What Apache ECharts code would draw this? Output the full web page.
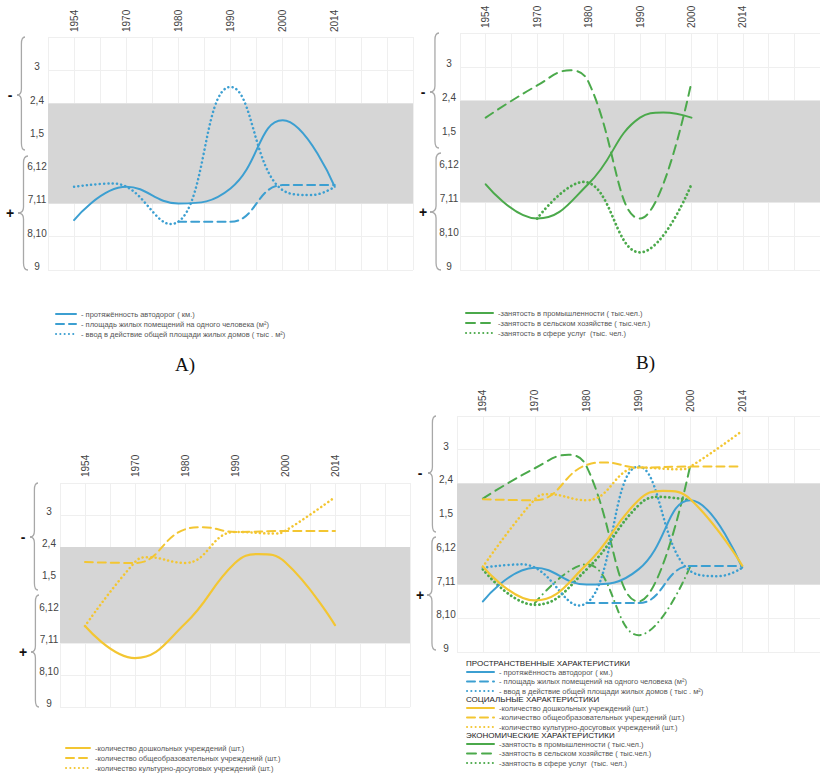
<!DOCTYPE html>
<html>
<head>
<meta charset="utf-8">
<script src="https://cdn.jsdelivr.net/npm/echarts@6/dist/echarts.min.js"></script>
<style>html,body{margin:0;padding:0;background:#fff;}#c{width:820px;height:774px;}</style>
</head>
<body>
<div id="c"></div>
<script>
// ---- data (x = position of the year in the categories list, y = rank position) ----
const years = ['1954', '1970', '1980', '1990', '2000', '2014'];
const yLabels = ['9', '8,10', '7,11', '6,12', '1,5', '2,4', '3', ''];

// A) spatial characteristics
const roads = [[0, 1.5], [1, 2.5], [2, 2.0], [3, 2.45], [4, 4.5], [5, 2.5]];
const housing = [[2, 1.45], [3, 1.45], [4, 2.55], [5, 2.55]];
const housingInput = [[0, 2.5], [0.75, 2.6], [1.85, 1.38], [3, 5.5], [4, 2.4], [4.55, 2.25], [5, 2.5]];

// B) economic characteristics
const industryB = [[0, 2.53], [1, 1.52], [2, 2.55], [3, 4.5], [3.45, 4.65], [4, 4.5]];
const agricultureB = [[0, 4.5], [1, 5.45], [1.65, 5.9], [2, 5.55], [3, 1.52], [4, 5.55]];
const servicesB = [[1, 1.52], [1.9, 2.6], [3, 0.52], [4, 2.53]];

// C) social characteristics
const preschool = [[0, 2.53], [1, 1.53], [2, 2.6], [3, 4.5], [3.47, 4.78], [4, 4.53], [5, 2.56]];
const schools = [[0, 4.53], [1, 4.5], [2, 5.55], [2.35, 5.62], [3, 5.47], [4, 5.5], [5, 5.5]];
const culture = [[0, 2.53], [1, 4.53], [1.25, 4.68], [2, 4.5], [3, 5.47], [3.8, 5.42], [4, 5.5], [5, 6.56]];

// D) combined — economic curves as drawn there
const industryD = [[0, 2.45], [1, 1.4], [2, 2.45], [3, 4.35], [3.4, 4.6], [4, 4.5]];
const agricultureD = [[0, 4.55], [1, 5.45], [1.65, 5.85], [2, 5.5], [3, 1.5], [4, 5.55]];
const servicesD = [[1, 1.45], [2, 2.6], [3, 0.5], [4, 2.55]];

const names = {
  roads: '- протяжённость автодорог ( км.)',
  housing: '- площадь жилых помещений на одного человека (м²)',
  housingInput: '- ввод в действие общей площади жилых домов ( тыс . м²)',
  industry: '-занятость в промышленности ( тыс.чел.)',
  agriculture: '-занятость в сельском хозяйстве ( тыс.чел.)',
  services: '-занятость в сфере услуг  (тыс. чел.)',
  preschool: '-количество дошкольных учреждений (шт.)',
  schools: '-количество общеобразовательных учреждений (шт.)',
  culture: '-количество культурно-досуговых учреждений (шт.)'
};
const headers = ['ПРОСТРАНСТВЕННЫЕ ХАРАКТЕРИСТИКИ', 'СОЦИАЛЬНЫЕ ХАРАКТЕРИСТИКИ', 'ЭКОНОМИЧЕСКИЕ ХАРАКТЕРИСТИКИ'];
const captions = ['A)', 'B)'];

// ---- styles ----
const BLUE = '#3c9fd1', GREEN = '#4ba94b', YELLOW = '#f3c632';
const SOLID = 'solid', DASH = [8, 5], DOT = [0.1, 4.2], DASHDOT = [7, 5, 0.1, 5];

const grids = [
  { left: 48, top: 37, width: 365, height: 233 },
  { left: 460, top: 33, width: 360, height: 237 },
  { left: 60, top: 483, width: 350, height: 224 },
  { left: 457, top: 416, width: 363, height: 236 }
];
const labelMargins = [5, 5, 6, 4];

const xAxes = grids.map((g, i) => ({
  type: 'value', gridIndex: i, position: 'top', min: -0.5, max: 6.5, interval: 0.5,
  axisLine: { show: false }, axisTick: { show: false },
  splitLine: { show: true, lineStyle: { color: '#efefef', width: 1 } },
  axisLabel: {
    rotate: 90, fontSize: 10, color: '#444', margin: labelMargins[i], fontFamily: 'Liberation Sans',
    formatter: v => (Number.isInteger(v) && v >= 0 && v < years.length) ? years[v] : ''
  }
}));
const yAxes = grids.map((g, i) => ({
  type: 'value', gridIndex: i, min: 0, max: 7, interval: 1,
  axisLine: { show: false }, axisTick: { show: false },
  splitLine: { show: true, lineStyle: { color: '#efefef', width: 1 } },
  axisLabel: {
    fontSize: 10, color: '#444', margin: 11, align: 'center', fontFamily: 'Liberation Sans',
    verticalAlign: 'bottom', lineHeight: 7,
    formatter: v => yLabels[Math.round(v)]
  }
}));

function line(name, data, grid, color, type, width) {
  return {
    type: 'line', name: name, data: data, xAxisIndex: grid, yAxisIndex: grid,
    smooth: 0.45, symbol: 'none', z: 3, silent: true,
    lineStyle: { color: color, type: type, width: width || 2, cap: 'round' },
    itemStyle: { color: color }
  };
}
function band(grid) {
  return {
    type: 'line', data: [], xAxisIndex: grid, yAxisIndex: grid, silent: true, symbol: 'none',
    markArea: { silent: true, itemStyle: { color: '#d6d6d6' }, data: [[{ yAxis: 2 }, { yAxis: 5 }]] }
  };
}

const series = [
  band(0), band(1), band(2), band(3),
  // A
  line(names.roads, roads, 0, BLUE, SOLID, 2),
  line(names.housing, housing, 0, BLUE, DASH, 2),
  line(names.housingInput, housingInput, 0, BLUE, DOT, 2.5),
  // B
  line(names.industry, industryB, 1, GREEN, SOLID, 2),
  line(names.agriculture, agricultureB, 1, GREEN, [9, 6], 2),
  line(names.services, servicesB, 1, GREEN, DOT, 2.8),
  // C
  line(names.preschool, preschool, 2, YELLOW, SOLID, 2.2),
  line(names.schools, schools, 2, YELLOW, DASH, 2),
  line(names.culture, culture, 2, YELLOW, DOT, 2.5),
  // D
  line(names.agriculture, agricultureD, 3, GREEN, [9, 6], 2),
  line(names.services, servicesD, 3, GREEN, DASHDOT, 2),
  line(names.industry, industryD, 3, GREEN, DOT, 2.8),
  line(names.housingInput, housingInput, 3, BLUE, DOT, 2.5),
  line(names.housing, housing, 3, BLUE, DASH, 2),
  line(names.roads, roads, 3, BLUE, SOLID, 2),
  line(names.schools, schools, 3, YELLOW, DASH, 2),
  line(names.culture, culture, 3, YELLOW, DOT, 2.5),
  line(names.preschool, preschool, 3, YELLOW, SOLID, 2.2)
];

function legend(data, left, top, w, gap) {
  return {
    data: data, left: left, top: top, height: 40, orient: 'vertical', padding: 0,
    itemWidth: w, itemHeight: 8, itemGap: gap, selectedMode: false,
    itemStyle: { opacity: 0 },
    textStyle: { fontSize: 7.5, color: '#555', fontFamily: 'Liberation Sans' }
  };
}
const legends = [
  legend([names.roads, names.housing, names.housingInput], 55, 310, 20, 2),
  legend([names.industry, names.agriculture, names.services], 465, 309, 27, 2),
  legend([names.preschool, names.schools, names.culture], 65, 744, 24, 2),
  legend([names.roads, names.housing, names.housingInput], 466, 668, 27, 1.5),
  legend([names.preschool, names.schools, names.culture], 466, 704, 27, 1.5),
  legend([names.industry, names.agriculture, names.services], 466, 740, 27, 1.5)
];

const headerStyle = { fontSize: 8, color: '#222', fontWeight: 'normal', fontFamily: 'Liberation Sans' };
const titles = [
  { text: captions[0], left: 175, top: 355, textStyle: { fontFamily: 'Liberation Serif', fontWeight: 'normal', fontSize: 19, color: '#111' }, padding: 0 },
  { text: captions[1], left: 636, top: 353, textStyle: { fontFamily: 'Liberation Serif', fontWeight: 'normal', fontSize: 19, color: '#111' }, padding: 0 },
  { text: headers[0], left: 466, top: 659, padding: 0, textStyle: headerStyle },
  { text: headers[1], left: 466, top: 695, padding: 0, textStyle: headerStyle },
  { text: headers[2], left: 466, top: 731, padding: 0, textStyle: headerStyle }
];

// braces with "-" / "+" signs, built from quadratic curves and lines
const braceStyle = { stroke: '#a8a8a8', lineWidth: 1.3, fill: null };
function braceParts(xt, y1, ym, y2, xe) {
  const xb = xt + (xe - xt) * 0.55;
  const q = (x1, y1_, cx, cy, x2, y2_) => ({ type: 'bezierCurve', silent: true, shape: { x1: x1, y1: y1_, cpx1: cx, cpy1: cy, x2: x2, y2: y2_ }, style: braceStyle });
  const l = (x1, y1_, x2, y2_) => ({ type: 'line', silent: true, shape: { x1: x1, y1: y1_, x2: x2, y2: y2_ }, style: braceStyle });
  return [
    q(xe, y1, xb, y1, xb, y1 + 7),
    l(xb, y1 + 7, xb, ym - 6),
    q(xb, ym - 6, xb, ym, xt, ym),
    q(xt, ym, xb, ym, xb, ym + 6),
    l(xb, ym + 6, xb, y2 - 7),
    q(xb, y2 - 7, xb, y2, xe, y2)
  ];
}
const braceSpecs = [
  // [tipX, top, tip, bottom, endX] x2, signX
  [[17, 37, 95, 150, 25], [18, 156, 213, 270, 28], 10],
  [[430, 33, 92, 148, 439], [430, 153, 212, 270, 441], 423],
  [[30, 483, 537, 590, 38], [31, 595, 652, 707, 39], 23],
  [[428, 416, 473, 532, 436], [427, 537, 595, 650, 436], 420]
];
const graphic = [];
braceSpecs.forEach(b => {
  [b[0], b[1]].forEach(p => { braceParts(p[0], p[1], p[2], p[3], p[4]).forEach(e => graphic.push(e)); });
  graphic.push({ type: 'text', x: b[2], y: b[0][2], silent: true, style: { text: '-', fill: '#111', align: 'center', verticalAlign: 'middle', font: 'bold 14px "Liberation Sans"' } });
  graphic.push({ type: 'text', x: b[2], y: b[1][2], silent: true, style: { text: '+', fill: '#111', align: 'center', verticalAlign: 'middle', font: 'bold 14px "Liberation Sans"' } });
});

const chart = echarts.init(document.getElementById('c'), null, { renderer: 'svg' });
chart.setOption({
  animation: false,
  backgroundColor: '#fff',
  textStyle: { fontFamily: 'Liberation Sans' },
  title: titles,
  legend: legends,
  grid: grids,
  xAxis: xAxes,
  yAxis: yAxes,
  series: series,
  graphic: { elements: graphic }
});
</script>
</body>
</html>
